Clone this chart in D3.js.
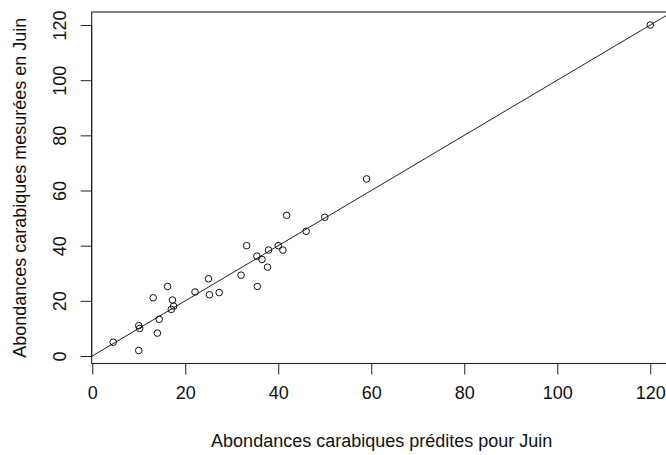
<!DOCTYPE html>
<html>
<head>
<meta charset="utf-8">
<script src="https://cdn.jsdelivr.net/npm/d3@7"></script>
<style>
  html, body { margin: 0; padding: 0; background: #fff; }
  svg { display: block; }
  text { font-family: "Liberation Sans", Arial, sans-serif; font-size: 18px; fill: #111; }
</style>
</head>
<body>
<svg id="chart" width="666" height="455"></svg>
<script>
// Data
const predicted = [4.5, 10, 10, 10.2, 14, 14.4, 13.1, 16.2, 17.25, 17, 17.5, 22.1, 25, 25.2, 27.3,
                   32, 33.2, 35.5, 35.4, 36.5, 37.7, 37.9, 40, 41, 41.8, 46, 50, 59, 120];
const measured  = [5, 2, 11, 10, 8.3, 13.3, 21.1, 25.2, 20.3, 16.9, 18.1, 23.2, 28, 22.2, 23,
                   29.3, 40, 25.2, 36.2, 35, 32.2, 38.4, 40, 38.4, 51, 45.2, 50.3, 64.2, 120];
const xTicks = [0, 20, 40, 60, 80, 100, 120];
const yTicks = [0, 20, 40, 60, 80, 100, 120];
const lineIntercept = [0];
const lineSlope = [1];
const xLabel = "Abondances carabiques prédites pour Juin";
const yLabel = "Abondances carabiques mesurées en Juin";

(function () {
const svg = d3.select("#chart");
const W = 666, H = 455;
svg.append("rect").attr("width", W).attr("height", H).attr("fill", "#fff");

// Plot region (R-style, 4% extension)
const pLeft = 91.7, pTop = 12, pBottom = 363.5;
const pxPerX = 4.65;
function ext(arr) {
  const [a, b] = d3.extent(arr);
  const r = (b - a) * 0.04;
  return [a - r, b + r];
}
const xDom = ext(predicted);
const yDom = ext(measured);
const pRight = pLeft + (xDom[1] - xDom[0]) * pxPerX;

const x = d3.scaleLinear().domain(xDom).range([pLeft, pRight]);
const y = d3.scaleLinear().domain(yDom).range([pBottom, pTop]);

svg.append("defs").append("clipPath").attr("id", "clip")
  .append("rect").attr("x", pLeft).attr("y", pTop).attr("width", pRight - pLeft).attr("height", pBottom - pTop);

// Box
svg.append("rect")
  .attr("x", pLeft).attr("y", pTop)
  .attr("width", pRight - pLeft).attr("height", pBottom - pTop)
  .attr("fill", "none").attr("stroke", "#222").attr("stroke-width", 1.1);

// Axes
const xAxis = d3.axisBottom(x).tickValues(xTicks).tickSize(11).tickPadding(12).tickFormat(d3.format("d"));
const gx = svg.append("g").attr("transform", `translate(0,${pBottom})`).call(xAxis);
gx.select(".domain").attr("d", `M${x(xTicks[0])},0H${x(xTicks[xTicks.length-1])}`).attr("stroke", "#222");
gx.selectAll(".tick line").attr("stroke", "#222");
gx.selectAll(".tick text").attr("font-size", 18).attr("font-family", "Liberation Sans, Arial, sans-serif").attr("fill", "#111");

const yAxis = d3.axisLeft(y).tickValues(yTicks).tickSize(11).tickFormat(d3.format("d"));
const gy = svg.append("g").attr("transform", `translate(${pLeft},0)`).call(yAxis);
gy.select(".domain").attr("d", `M0,${y(yTicks[0])}V${y(yTicks[yTicks.length-1])}`).attr("stroke", "#222");
gy.selectAll(".tick line").attr("stroke", "#222");
gy.selectAll(".tick text")
  .attr("x", null).attr("dy", null)
  .attr("text-anchor", "middle")
  .attr("font-size", 18).attr("font-family", "Liberation Sans, Arial, sans-serif").attr("fill", "#111")
  .attr("transform", "translate(-25.7,0) rotate(-90)");

// Reference line
const lx0 = xDom[0], lx1 = xDom[1];
svg.append("line")
  .attr("clip-path", "url(#clip)")
  .attr("x1", x(lx0)).attr("y1", y(lineIntercept[0] + lineSlope[0] * lx0))
  .attr("x2", x(lx1)).attr("y2", y(lineIntercept[0] + lineSlope[0] * lx1))
  .attr("stroke", "#222").attr("stroke-width", 1);

// Points
svg.append("g").selectAll("circle")
  .data(predicted.map((p, i) => ({p, m: measured[i]})))
  .join("circle")
  .attr("cx", d => x(d.p)).attr("cy", d => y(d.m))
  .attr("r", 3.3)
  .attr("fill", "none").attr("stroke", "#111").attr("stroke-width", 1);

// Axis titles
svg.append("text")
  .attr("x", (pLeft + pRight) / 2).attr("y", 446.7)
  .attr("text-anchor", "middle")
  .text(xLabel);
svg.append("text")
  .attr("transform", `translate(25.5,${(pTop + pBottom) / 2}) rotate(-90)`)
  .attr("text-anchor", "middle")
  .text(yLabel);
})();
</script>
</body>
</html>
